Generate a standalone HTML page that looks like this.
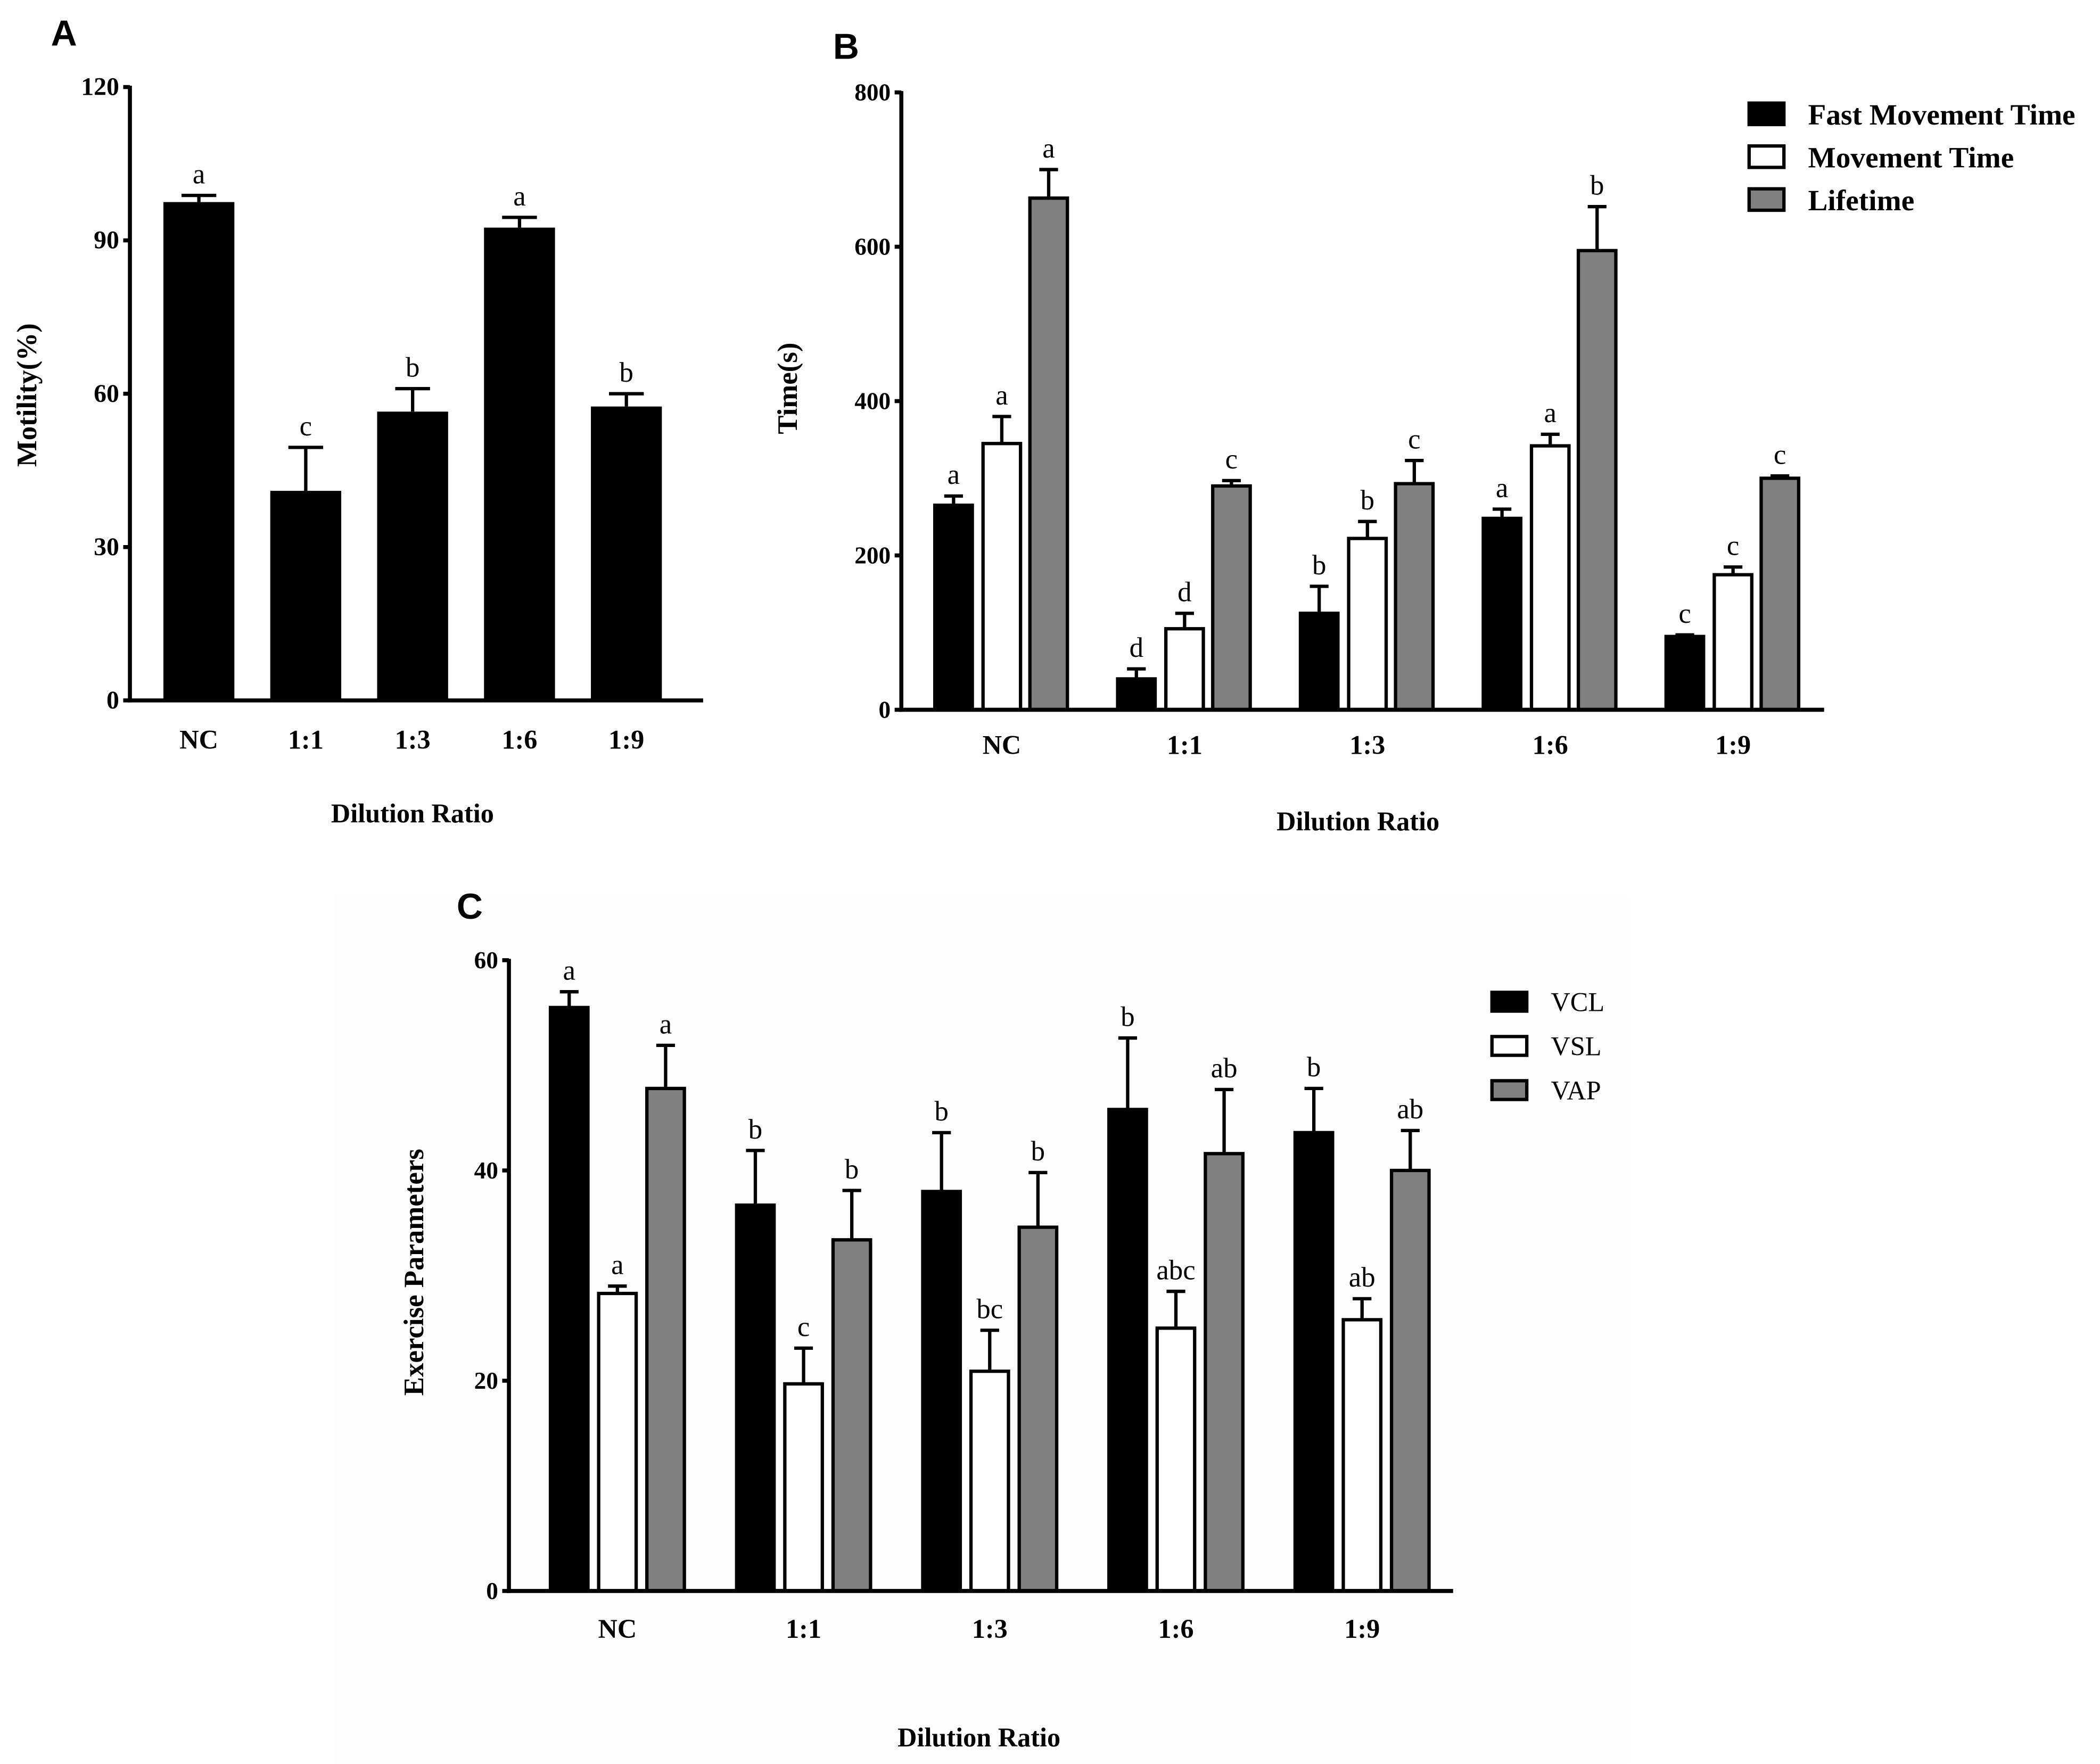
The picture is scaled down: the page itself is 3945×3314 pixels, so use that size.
<!DOCTYPE html>
<html><head><meta charset="utf-8"><style>
html,body{margin:0;padding:0;background:#fff;}
svg{display:block;}
</style></head><body>
<svg id="fig" width="3945" height="3314" viewBox="0 0 1568 1317.2" xmlns="http://www.w3.org/2000/svg">
<rect x="0" y="0" width="1568" height="1317.2" fill="#fff"/>
<rect x="250" y="668" width="965" height="649" fill="#fdfdfd"/>
<text x="38" y="34" font-family="Liberation Sans, sans-serif" font-weight="bold" font-size="27">A</text>
<text x="622" y="44" font-family="Liberation Sans, sans-serif" font-weight="bold" font-size="27">B</text>
<text x="341" y="686" font-family="Liberation Sans, sans-serif" font-weight="bold" font-size="27">C</text>
<g id="gA"></g>
<g id="gB"></g>
<g id="gC"></g>
</svg>
<script>
const categories = ["NC","1:1","1:3","1:6","1:9"];
// Panel A
const motility = [97.5,41,56.5,92.5,57.5];
const motilityErr = [1.3,8.5,4.5,2,2.5];
const motilityLetters = ["a","c","b","a","b"];
const ticksA = [0,30,60,90,120];
// Panel B
const fastMove = [265,40,125,248,95];
const fastMoveErr = [12,13,35,12,2];
const fastMoveLetters = ["a","d","b","a","c"];
const moveTime = [345,105,222,342,175];
const moveTimeErr = [35,20,22,15,10];
const moveTimeLetters = ["a","d","b","a","c"];
const lifetime = [663,290,293,595,300];
const lifetimeErr = [37,7,30,57,3];
const lifetimeLetters = ["a","c","c","b","c"];
const ticksB = [0,200,400,600,800];
// Panel C
const vcl = [55.5,36.7,38,45.8,43.6];
const vclErr = [1.5,5.2,5.6,6.8,4.2];
const vclLetters = ["a","b","b","b","b"];
const vsl = [28.3,19.7,20.9,25,25.8];
const vslErr = [0.7,3.4,3.9,3.5,2];
const vslLetters = ["a","c","bc","abc","ab"];
const vap = [47.8,33.4,34.6,41.6,40];
const vapErr = [4.1,4.7,5.2,6.1,3.8];
const vapLetters = ["a","b","b","ab","ab"];
const ticksC = [0,20,40,60];

const NS="http://www.w3.org/2000/svg";
function mk(parent,tag,attrs,text){const e=document.createElementNS(NS,tag);for(const k in attrs)e.setAttribute(k,attrs[k]);if(text!==undefined)e.textContent=text;parent.appendChild(e);return e;}
const SERIF="Liberation Serif, serif";

function drawPanel(g,cfg){
  const {x0,x1,yTop,yZero,max,ticks,groupCenter,series,barW,capW,tickFont,catY,catFont,xTitle,yTitle,strokeW,legend}=cfg;
  const ys=v=>yZero-(v/max)*(yZero-yTop);
  series.forEach((s,si)=>{
    s.values.forEach((v,i)=>{
      const cx=groupCenter(i)+s.offset;
      const yv=ys(v), ye=ys(v+s.err[i]);
      const l=mk(g,'line',{x1:cx,x2:cx,y1:yv,y2:ye,stroke:'#000','stroke-width':2.5});
      
      
      const c=mk(g,'line',{x1:cx-capW/2,x2:cx+capW/2,y1:ye,y2:ye,stroke:'#000','stroke-width':2.5});
      
      
      const r=mk(g,'rect',{x:cx-barW/2,y:yv,width:barW,height:yZero-yv,fill:s.fill,stroke:'#000','stroke-width':strokeW});
      
      
      const t=mk(g,'text',{x:cx,y:ye-9,'text-anchor':'middle','font-family':SERIF,'font-size':21},s.letters[i]);
      
      
    });
  });
  const ax=mk(g,'line',{x1:x0,x2:x0,y1:yTop-1,y2:yZero+1.5,stroke:'#000','stroke-width':3});
  
  
  const bx=mk(g,'line',{x1:x0-1.5,x2:x1,y1:yZero,y2:yZero,stroke:'#000','stroke-width':3});
  
  
  ticks.forEach(t=>{
    const y=ys(t);
    const tk=mk(g,'line',{x1:x0-5,x2:x0,y1:y,y2:y,stroke:'#000','stroke-width':3});
    
    
    const tl=mk(g,'text',{x:x0-8,y:y+6,'text-anchor':'end','font-family':SERIF,'font-weight':'bold','font-size':tickFont},String(t));
    
    
  });
  categories.forEach((c,i)=>{
    const cl=mk(g,'text',{x:groupCenter(i),y:catY,'text-anchor':'middle','font-family':SERIF,'font-weight':'bold','font-size':catFont},c);
    
    
  });
  const xt=mk(g,'text',{x:xTitle[0],y:xTitle[1],'text-anchor':'middle','font-family':SERIF,'font-weight':'bold','font-size':20},'Dilution Ratio');
  
  
  const yt=mk(g,'text',{x:0,y:0,'text-anchor':'middle','font-family':SERIF,'font-weight':'bold','font-size':yTitle[3],transform:`translate(${yTitle[0]},${yTitle[1]}) rotate(-90)`},yTitle[2]);
  
  
  if(legend){
    series.forEach((s,si)=>{
      const y=legend.y+si*legend.dy;
      const lr=mk(g,'rect',{x:legend.x,y:y,width:26,height:legend.h,fill:s.fill,stroke:'#000','stroke-width':2.5});
      
      
      const lt=mk(g,'text',{x:legend.x+44,y:y+legend.h,'font-family':SERIF,'font-weight':legend.bold?'bold':'normal','font-size':legend.fs},s.name);
      
      
    });
  }
}

drawPanel(document.getElementById('gA'),{
  x0:97,x1:525,yTop:65,yZero:523,max:120,ticks:ticksA,
  groupCenter:i=>148.5+i*79.8,barW:53,capW:26,strokeW:0,tickFont:19,catY:559,catFont:20,
  xTitle:[308,614],yTitle:[27,295,'Motility(%)',21],
  series:[{key:'motility',name:'Motility',values:motility,err:motilityErr,letters:motilityLetters,fill:'#000',offset:0}]
});
drawPanel(document.getElementById('gB'),{
  x0:673,x1:1362,yTop:69,yZero:530,max:800,ticks:ticksB,
  groupCenter:i=>748+i*136.5,barW:28,capW:14,strokeW:2.5,tickFont:18,catY:563,catFont:20,
  xTitle:[1014,620],yTitle:[595,290,'Time(s)',21],
  legend:{x:1306,y:77,dy:32,h:16,fs:22,bold:true},
  series:[
    {key:'fast-movement-time',name:'Fast Movement Time',values:fastMove,err:fastMoveErr,letters:fastMoveLetters,fill:'#000',offset:-36},
    {key:'movement-time',name:'Movement Time',values:moveTime,err:moveTimeErr,letters:moveTimeLetters,fill:'#fff',offset:0},
    {key:'lifetime',name:'Lifetime',values:lifetime,err:lifetimeErr,letters:lifetimeLetters,fill:'#808080',offset:35}
  ]
});
drawPanel(document.getElementById('gC'),{
  x0:380,x1:1085,yTop:717,yZero:1188,max:60,ticks:ticksC,
  groupCenter:i=>461+i*139,barW:28,capW:14,strokeW:2.5,tickFont:18,catY:1223,catFont:20,
  xTitle:[731,1304],yTitle:[316,950,'Exercise Parameters',21],
  legend:{x:1114,y:741,dy:33,h:14,fs:20,bold:false},
  series:[
    {key:'vcl',name:'VCL',values:vcl,err:vclErr,letters:vclLetters,fill:'#000',offset:-36},
    {key:'vsl',name:'VSL',values:vsl,err:vslErr,letters:vslLetters,fill:'#fff',offset:0},
    {key:'vap',name:'VAP',values:vap,err:vapErr,letters:vapLetters,fill:'#808080',offset:36}
  ]
});
</script>
</body></html>
